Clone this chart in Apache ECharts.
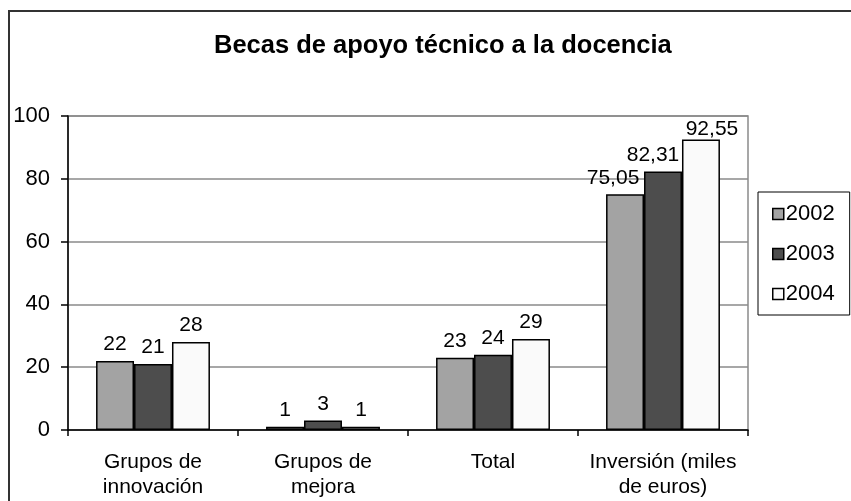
<!DOCTYPE html>
<html>
<head>
<meta charset="utf-8">
<script src="https://cdn.jsdelivr.net/npm/echarts@6/dist/echarts.min.js"></script>
<style>
  html, body { margin: 0; padding: 0; background: #fff; }
  #chart { width: 851px; height: 501px; }
</style>
</head>
<body>
<div id="chart"></div>
<script>
/* =========================================
   1. DATA
   ========================================= */
const categories = ["Grupos de\ninnovación", "Grupos de\nmejora", "Total", "Inversión (miles\nde euros)"];
const seriesNames = ["2002", "2003", "2004"];
const values2002 = [22, 1, 23, 75.05];
const values2003 = [21, 3, 24, 82.31];
const values2004 = [28, 1, 29, 92.55];
const yTicks = [0, 20, 40, 60, 80, 100];

/* =========================================
   2. CHART
   ========================================= */
function initChart() {
  const dom = document.getElementById("chart");
  const chart = echarts.init(dom, null, { renderer: "canvas" });
  const font = "'Liberation Sans', Arial, sans-serif";

  const colors = ["#a3a3a3", "#4d4d4d", "#fafafa"];
  const allValues = [values2002, values2003, values2004];
  // nudges Excel applied to the crowded labels of the last group
  const lastLabelOffset = [[-12, 0], [-10, 0], [11, 6]];

  // comma decimals, as in the original
  const fmt = (v) => (Number.isInteger(v) ? String(v) : v.toFixed(2).replace(".", ","));

  const series = seriesNames.map((name, i) => ({
    name: name,
    type: "bar",
    barGap: "0%",
    barCategoryGap: "33%",
    data: allValues[i].map((v, j) =>
      j === categories.length - 1
        ? { value: v, label: { offset: lastLabelOffset[i] } }
        : v
    ),
    itemStyle: { color: colors[i], borderColor: "#000", borderWidth: 1.5 },
    label: {
      show: true,
      position: "top",
      distance: 6,
      color: "#000",
      fontFamily: font,
      fontSize: 21,
      formatter: (p) => fmt(p.value),
    },
  }));

  const option = {
    animation: false,
    backgroundColor: "#fff",
    title: {
      text: "Becas de apoyo técnico a la docencia",
      left: 209,
      top: 28,
      textStyle: { fontFamily: font, fontSize: 25.5, fontWeight: "bold", color: "#000" },
    },
    graphic: [
      {
        type: "rect",
        shape: { x: 9, y: 11, width: 900, height: 600 },
        style: { fill: "none", stroke: "#333", lineWidth: 2 },
        silent: true,
      },
    ],
    legend: {
      orient: "vertical",
      left: 758,
      top: 192,
      padding: [11, 15, 10, 14],
      itemWidth: 11,
      itemHeight: 11,
      itemGap: 18,
      icon: "rect",
      borderColor: "#000",
      borderWidth: 1,
      itemStyle: { borderColor: "#000", borderWidth: 1.5 },
      textStyle: { fontFamily: font, fontSize: 22, color: "#000", padding: [0, 0, 0, -3] },
      data: seriesNames,
    },
    grid: {
      left: 68,
      right: 103,
      top: 116,
      bottom: 71,
      show: true,
      borderColor: "#8a8a8a",
      borderWidth: 1.5,
    },
    xAxis: {
      type: "category",
      data: categories,
      axisLine: { lineStyle: { color: "#000", width: 1.5 } },
      axisTick: { show: true, length: 6, lineStyle: { color: "#000", width: 1.5 } },
      axisLabel: {
        margin: 20,
        interval: 0,
        color: "#000",
        fontFamily: font,
        fontSize: 21,
        lineHeight: 25,
      },
    },
    yAxis: {
      type: "value",
      min: yTicks[0],
      max: yTicks[yTicks.length - 1],
      interval: yTicks[1] - yTicks[0],
      axisLine: { show: true, lineStyle: { color: "#000", width: 1.5 } },
      axisTick: { show: true, length: 7, lineStyle: { color: "#000", width: 1.5 } },
      splitLine: { lineStyle: { color: "#8a8a8a", width: 1.5 } },
      axisLabel: { margin: 18, color: "#000", fontFamily: font, fontSize: 22 },
    },
    series: series,
  };

  chart.setOption(option);
}

document.addEventListener("DOMContentLoaded", initChart);
</script>
</body>
</html>
